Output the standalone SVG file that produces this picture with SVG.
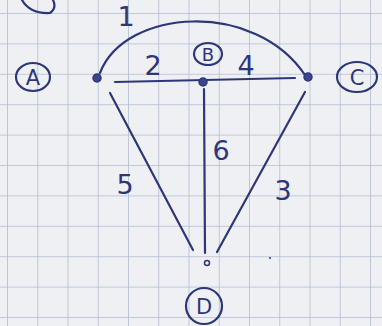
<svg xmlns="http://www.w3.org/2000/svg" width="382" height="326" viewBox="0 0 382 326">
<style>
.ink{stroke:#2d3778;stroke-width:2.2;fill:none;stroke-linecap:round}
.num{font-family:"DejaVu Sans",sans-serif;font-size:27px;fill:#2d3778;text-anchor:middle}
.lbl{font-family:"DejaVu Sans",sans-serif;font-size:21px;fill:#2d3778;text-anchor:middle}
.dot{fill:#3a4590;stroke:#2d3778;stroke-width:1.5}
</style>
<defs>
<pattern id="grid" patternUnits="userSpaceOnUse" x="7" y="13" width="30.25" height="30.4">
<path d="M0,0V30.4M0,0H30.25" stroke="#b3bdd0" stroke-width="1.6" fill="none"/>
</pattern>
</defs>
<rect width="382" height="326" fill="#eef0f4"/>
<rect width="382" height="326" fill="url(#grid)"/>
<path class="ink" d="M22,0 Q30,14 50,13 Q57,8 53,0"/>
<g id="connectors">
<path id="e1" class="ink" d="M100,73 C125,8 255,0 305,75"/>
<path id="e24" class="ink" d="M115,82 L295,78"/>
<path id="e5" class="ink" d="M110,93 L193,250"/>
<path id="e6" class="ink" d="M204,89 L205,253"/>
<path id="e3" class="ink" d="M305,92 L217,252"/>
<text class="num" x="126" y="26">1</text>
<text class="num" x="153" y="75">2</text>
<text class="num" x="246" y="75">4</text>
<text class="num" x="221" y="160">6</text>
<text class="num" x="125" y="194">5</text>
<text class="num" x="283" y="200">3</text>
</g>
<g id="A">
<circle class="dot" cx="97" cy="78" r="4"/>
<ellipse class="ink" cx="33" cy="77" rx="17" ry="14"/>
<text class="lbl" x="33" y="85">A</text>
</g>
<g id="B">
<circle class="dot" cx="203" cy="82" r="4"/>
<ellipse class="ink" cx="208" cy="54" rx="14" ry="11"/>
<text class="lbl" x="208" y="61" style="font-size:18px">B</text>
</g>
<g id="C">
<circle class="dot" cx="308" cy="77" r="4"/>
<ellipse class="ink" cx="357" cy="77" rx="20" ry="15"/>
<text class="lbl" x="357" y="85">C</text>
</g>
<g id="D">
<circle cx="207" cy="263" r="2.5" fill="none" stroke="#2d3778" stroke-width="1.5"/>
<circle class="ink" cx="204" cy="306" r="18"/>
<text class="lbl" x="204" y="314">D</text>
</g>
<circle cx="270" cy="258" r="1" fill="#2d3778"/>
</svg>
